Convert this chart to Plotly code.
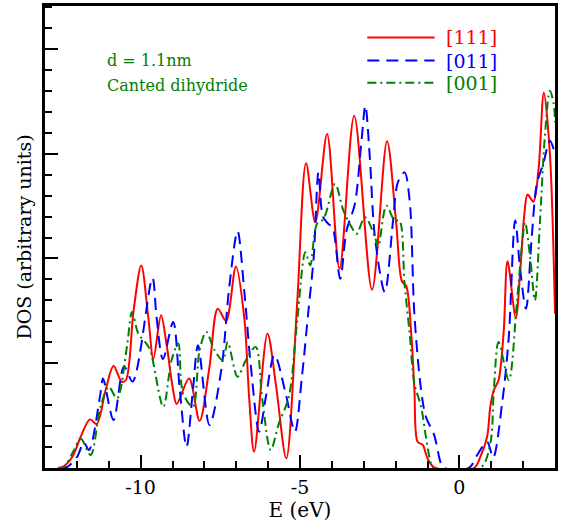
import plotly.graph_objects as go

# Density of states for three wire orientations (energy in eV, DOS in arbitrary units)
e_111 = [-12.6, -12.45, -12.14, -11.88, -11.59, -11.38, -11.10, -10.85, -10.59, -10.46,
         -10.22, -9.98, -9.76, -9.60, -9.36, -9.19, -8.98, -8.87, -8.48, -8.15,
         -7.84, -7.58, -7.32, -7.01, -6.75, -6.59, -6.44, -6.02, -5.76, -5.43,
         -5.09, -4.81, -4.52, -4.15, -3.76, -3.30, -2.74, -2.27, -1.98, -1.80,
         -1.67, -1.51, -1.41, -1.31, -1.15, -1.00, -0.79, 0.46, 0.66, 0.87,
         0.97, 1.08, 1.23, 1.39, 1.51, 1.77, 1.91, 2.03, 2.14, 2.32,
         2.48, 2.65, 2.84, 3.0]
dos_111 = [0, 0.05, 0.54, 1.49, 2.32, 2.10, 3.71, 4.87, 4.11, 4.20,
           7.52, 9.67, 7.20, 5.22, 7.29, 5.94, 3.71, 3.05, 4.27, 2.25,
           4.83, 7.60, 7.02, 9.62, 7.20, 3.24, 0.78, 6.41, 4.03, 0.46,
           7.84, 14.54, 11.73, 15.94, 9.51, 16.81, 8.51, 15.59, 11.65, 8.90,
           8.70, 6.41, 3.71, 1.25, 1.10, 0.46, 0.03, 0, 0.54, 1.49,
           2.92, 3.71, 4.20, 6.50, 9.87, 7.17, 9.43, 11.97, 13.05, 12.71,
           14.19, 17.92, 14.98, 7.37]

e_011 = [-12.5, -12.3, -11.99, -11.78, -11.62, -11.26, -11.18, -10.85, -10.52, -10.25,
         -9.63, -9.50, -9.30, -8.98, -8.77, -8.56, -8.36, -8.20, -7.84, -7.47,
         -7.22, -6.96, -6.75, -6.54, -6.28, -6.07, -5.80, -5.45, -5.16, -4.94,
         -4.73, -4.57, -4.42, -4.28, -4.11, -3.98, -3.74, -3.54, -3.28, -3.07,
         -2.95, -2.81, -2.65, -2.34, -2.08, -1.93, -1.72, -1.56, -1.41, -1.20,
         -1.05, -0.79, -0.58, -0.48, 0.30, 0.56, 0.87, 1.06, 1.34, 1.55,
         1.75, 1.91, 2.09, 2.27, 2.43, 2.63, 2.84, 3.0]
dos_011 = [0, 0.05, 0.54, 1.21, 0.86, 3.56, 4.27, 2.29, 4.85, 4.13,
           9.07, 7.20, 5.20, 6.97, 3.71, 1.01, 3.71, 5.86, 2.05, 4.67,
           8.63, 11.30, 8.48, 4.83, 1.73, 3.40, 5.40, 3.56, 1.73, 4.35,
           7.60, 10.06, 14.11, 12.00, 11.65, 11.49, 9.03, 11.33, 12.60, 15.62,
           17.29, 14.83, 11.02, 8.40, 11.81, 13.63, 14.11, 12.76, 7.30, 3.71,
           2.44, 1.57, 0.22, 0, 0, 0.62, 1.25, 0.50, 3.08, 6.25,
           11.81, 9.43, 7.60, 11.02, 13.56, 14.51, 15.62, 14.98]

e_001 = [-12.6, -12.4, -12.09, -11.88, -11.57, -11.26, -11.00, -10.74, -10.43, -10.27,
         -10.07, -9.85, -9.70, -9.29, -9.03, -8.82, -8.67, -8.36, -8.15, -7.94,
         -7.68, -7.42, -7.27, -6.96, -6.70, -6.39, -6.18, -5.92, -5.66, -5.35,
         -5.09, -4.83, -4.68, -4.47, -4.26, -3.90, -3.64, -3.38, -3.23, -2.96,
         -2.65, -2.55, -2.29, -2.03, -1.88, -1.72, -1.56, -1.41, -1.20, -1.05,
         -0.89, -0.80, 0.66, 0.97, 1.08, 1.23, 1.55, 1.80, 1.96, 2.06,
         2.22, 2.37, 2.53, 2.68, 2.84, 2.96, 3.0]
dos_001 = [0, 0.05, 0.86, 1.41, 0.62, 2.92, 3.87, 3.32, 5.78, 7.44,
           6.41, 6.00, 5.62, 2.92, 5.14, 5.94, 3.56, 2.92, 5.62, 6.49,
           5.62, 5.14, 6.01, 4.35, 5.14, 5.78, 3.24, 0.86, 2.13, 3.40,
           7.00, 10.30, 9.67, 11.65, 11.89, 13.56, 12.29, 11.49, 11.17, 11.97,
           11.02, 10.54, 12.52, 11.81, 11.81, 8.79, 6.41, 4.03, 2.92, 1.49,
           0.22, 0, 0, 1.17, 3.71, 6.01, 4.19, 7.84, 10.54, 11.73,
           10.06, 8.00, 11.81, 15.78, 18.00, 17.37, 16.50]

series_names = ["[111]", "[011]", "[001]"]
series_colors = ["#ff0000", "#0000ff", "#008000"]
series_dash = ["solid", "12px,7px", "9px,4px,2px,4px"]

x_tickvals = [-10, -5, 0]
x_ticktext = ["-10", "-5", "0"]

serif = "DejaVu Serif"

fig = go.Figure()
for name, ex, dy, col, dash in zip(series_names, [e_111, e_011, e_001],
                                   [dos_111, dos_011, dos_001],
                                   series_colors, series_dash):
    fig.add_trace(go.Scatter(
        x=ex, y=dy, mode="lines", name=name,
        line=dict(color=col, width=2, dash=dash, shape="spline", smoothing=0.9),
        showlegend=False,
    ))

# Legend drawn as sample lines with labels in the upper right corner
legend_y = [0.932, 0.882, 0.834]
for name, col, dash, yy in zip(series_names, series_colors, series_dash, legend_y):
    fig.add_shape(type="line", xref="paper", yref="paper",
                  x0=0.632, x1=0.764, y0=yy, y1=yy,
                  line=dict(color=col, width=2, dash=dash))
    fig.add_annotation(xref="paper", yref="paper", x=0.782, y=yy,
                       xanchor="left", yanchor="middle", showarrow=False,
                       text=name, font=dict(family=serif, size=19, color=col))

fig.add_annotation(xref="paper", yref="paper", x=0.117, y=0.883,
                   xanchor="left", yanchor="middle", showarrow=False,
                   text="d = 1.1nm", font=dict(family=serif, size=16, color="#008000"))
fig.add_annotation(xref="paper", yref="paper", x=0.117, y=0.827,
                   xanchor="left", yanchor="middle", showarrow=False,
                   text="Canted dihydride", font=dict(family=serif, size=16, color="#008000"))

fig.update_layout(
    width=561, height=525,
    margin=dict(l=45, r=3, t=5, b=57),
    paper_bgcolor="white", plot_bgcolor="white",
    font=dict(family=serif, size=19, color="black"),
    xaxis=dict(
        range=[-13, 3], showgrid=False, zeroline=False,
        showline=True, mirror=True, linecolor="black", linewidth=2.5,
        ticks="inside", ticklen=13, tickwidth=2, tickcolor="black",
        tickvals=x_tickvals, ticktext=x_ticktext,
        tickfont=dict(family=serif, size=19),
        minor=dict(dtick=1, tick0=0, ticks="inside", ticklen=7, tickwidth=1.5, tickcolor="black"),
        title=dict(text="E (eV)", font=dict(family=serif, size=20), standoff=6),
    ),
    yaxis=dict(
        range=[0, 22.05], showgrid=False, zeroline=False,
        showline=True, mirror=True, linecolor="black", linewidth=2.5,
        ticks="inside", ticklen=13, tickwidth=2, tickcolor="black",
        dtick=5, tick0=0, showticklabels=False,
        minor=dict(dtick=1, tick0=0, ticks="inside", ticklen=7, tickwidth=1.5, tickcolor="black"),
        title=dict(text="DOS (arbitrary units)", font=dict(family=serif, size=19), standoff=6),
    ),
)

fig.write_html("out.html")
